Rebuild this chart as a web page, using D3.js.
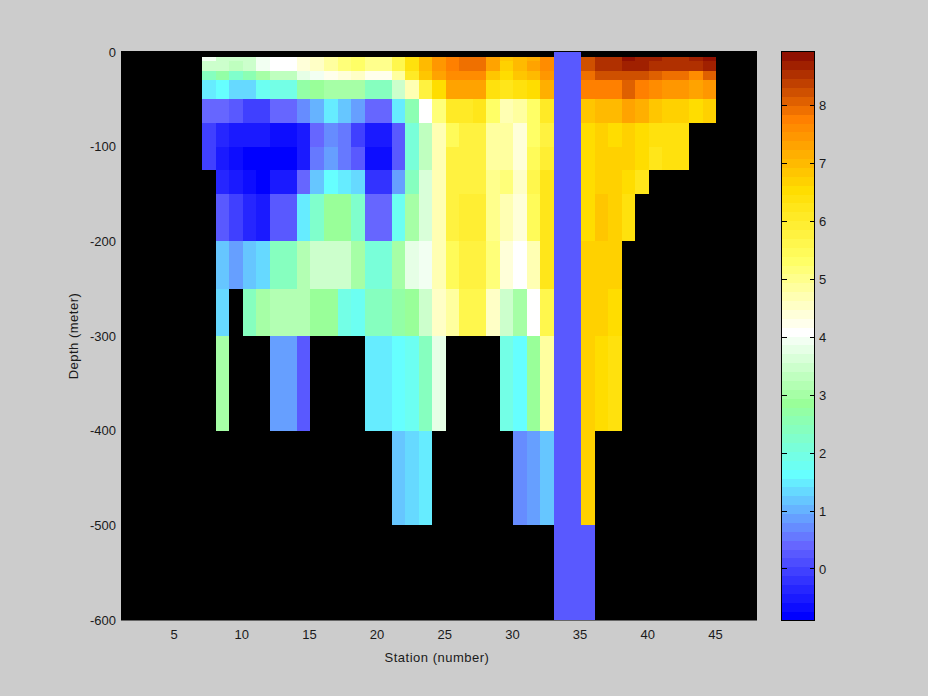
<!DOCTYPE html>
<html><head><meta charset="utf-8">
<script src="https://cdn.jsdelivr.net/npm/d3@7"></script>
<style>
html,body{margin:0;padding:0;background:#ccc}
svg{display:block}
text{font-family:"Liberation Sans",sans-serif;font-size:13px;fill:#1a1a1a}
.lab{letter-spacing:.5px}
</style></head><body>
<svg id="c" width="928" height="696"></svg>
<script>
const _ = null;
const firstStation = 7;
const depthEdges = [0,-5,-10,-20,-30,-50,-75,-100,-125,-150,-200,-250,-300,-400,-500,-600];
const xTicks = [5,10,15,20,25,30,35,40,45];
const yTicks = [0,-100,-200,-300,-400,-500,-600];
const cbTicks = [0,1,2,3,4,5,6,7,8];
const valueRange = [-0.88,8.92];
const colorStops = ["#0000ff","#6666ff","#66ffff","#99ff99","#ffffff","#ffff66","#ffdd00","#ff8000","#800000"];
const levelCount = 64;

const row0   = [_,_,_,_,_,_,_,_,_,_,_,_,_,_,_,_,_,_,_,_,_,_,_,_,_,_,.2,.2,_,_,_,_,_,_,_,_,_,_];
const row5   = [3.87,3.41,3.41,3.41,3.87,4.02,4.02,4.25,4.48,4.79,5.09,5.25,4.94,4.94,5.55,6.39,6.93,7.39,7.70,7.85,7.85,7.16,6.78,6.93,7.08,7.54,.2,.2,8.15,8.46,8.46,8.77,8.61,8.61,8.46,8.46,8.61,8.84];
const row10  = [3.41,3.41,3.25,3.41,3.87,4.02,4.02,4.25,4.48,4.79,5.09,5.25,4.94,4.94,5.55,6.32,6.93,7.39,7.70,7.85,7.85,7.16,6.62,6.93,7.16,7.54,.2,.2,8.15,8.46,8.46,8.61,8.61,8.46,8.46,8.46,8.46,8.61];
const row20  = [2.34,2.57,2.18,2.49,2.95,3.25,3.25,3.71,3.87,4.17,4.33,4.48,4.17,4.17,4.79,6.01,6.70,7.16,7.54,7.54,7.54,6.78,6.47,6.78,6.93,7.39,.2,.2,7.85,8.15,8.15,8.23,8.15,8.00,7.85,7.85,7.54,8.00];
const row30  = [1.42,1.57,1.34,1.34,1.72,1.95,1.95,2.64,2.80,2.95,2.95,2.95,2.41,2.41,3.41,4.63,5.70,6.47,7.16,7.16,7.16,6.32,6.16,6.32,6.47,7.08,.2,.2,7.70,7.70,7.70,7.93,7.77,7.54,7.39,7.39,7.16,7.39];
const row50  = [.35,.35,.19,-.11,-.19,.35,.35,.65,1.03,1.42,1.11,.80,.35,.35,1.42,2.49,4.02,5.09,6.01,6.01,6.09,5.25,4.63,4.86,5.32,6.01,.2,.2,6.78,6.93,6.93,7.16,7.08,6.78,6.62,6.62,6.47,6.62];
const row75  = [-.11,-.42,-.50,-.50,-.57,-.80,-.80,-.50,.35,.65,.50,-.11,-.57,-.57,.19,2.03,3.25,4.63,5.40,5.70,5.70,4.79,4.79,4.33,5.25,5.70,.2,.2,6.47,6.62,6.47,6.62,6.47,6.32,6.32,6.32,_,_];
const row100 = [-.04,-.57,-.73,-.83,-.85,-.85,-.85,-.50,.50,.80,.50,.19,-.73,-.73,.19,2.03,3.25,4.63,5.70,5.70,5.70,4.79,4.79,4.33,5.47,5.86,.2,.2,6.47,6.62,6.62,6.62,6.47,6.24,6.32,6.32,_,_];
const row125 = [_,-.42,-.50,-.80,-.85,-.65,-.65,.27,1.11,1.57,1.42,1.19,-.27,-.27,.80,2.34,3.56,4.63,5.70,5.70,5.70,4.94,5.09,4.48,5.55,6.16,.2,.2,6.47,6.62,6.62,6.47,6.16,_,_,_,_,_];
const row150 = [_,.19,-.04,-.42,-.65,.19,.19,1.42,2.18,2.80,2.80,2.18,.35,.35,1.72,2.95,3.56,4.63,5.70,5.86,5.86,4.94,4.63,4.33,5.40,6.16,.2,.2,6.47,6.78,6.62,6.32,_,_,_,_,_,_];
const row200 = [_,1.11,.80,1.11,1.26,2.34,2.34,3.10,3.41,3.41,3.41,2.95,2.03,2.03,2.95,3.64,3.87,4.63,5.40,5.70,5.70,5.09,4.33,4.02,4.63,6.16,.2,.2,6.62,6.62,6.62,_,_,_,_,_,_,_];
const row250 = [_,1.26,_,2.34,2.95,3.03,3.03,3.03,2.87,2.87,1.95,1.72,2.26,2.26,2.57,2.87,3.41,4.48,4.79,5.55,5.55,4.48,3.41,2.95,4.02,5.55,.2,.2,6.62,6.62,6.47,_,_,_,_,_,_,_];
const row300 = [_,2.95,_,_,_,.88,.88,.19,_,_,_,_,1.42,1.42,1.57,1.72,2.34,3.71,_,_,_,_,1.95,1.57,2.80,4.79,.2,.2,6.62,6.47,6.32,_,_,_,_,_,_,_];
const row400 = [_,_,_,_,_,_,_,_,_,_,_,_,_,_,1.11,1.19,1.42,_,_,_,_,_,_,.65,.80,1.11,.2,.2,6.62,_,_,_,_,_,_,_,_,_];
const row500 = [_,_,_,_,_,_,_,_,_,_,_,_,_,_,_,_,_,_,_,_,_,_,_,_,_,_,.2,.2,.2,_,_,_,_,_,_,_,_,_];
const rows = [row0,row5,row10,row20,row30,row50,row75,row100,row125,row150,row200,row250,row300,row400,row500];

const svg = d3.select("#c");
const x = d3.scaleLinear().domain([1,48]).range([121,757]);
const y = d3.scaleLinear().domain([0,-600]).range([52,620]);
const cbY = d3.scaleLinear().domain(valueRange).range([620,52]);

const interp = d3.piecewise(d3.interpolateRgb, colorStops);
const levels = d3.range(levelCount).map(i => interp(i/levelCount));
const halfBand = (valueRange[1]-valueRange[0])/levelCount/2;
const color = d3.scaleQuantize().domain([valueRange[0]-halfBand,valueRange[1]-halfBand]).range(levels);

// plot
svg.append("rect").attr("x",x(1)).attr("y",51).attr("width",x(48)-x(1)).attr("height",569.5).attr("fill","#000");
const plot = svg.append("g").attr("shape-rendering","crispEdges");
rows.forEach((row,r)=>{
  plot.selectAll(null).data(row.map((v,k)=>({v,k})).filter(d=>d.v!==null)).join("rect")
    .attr("x",d=>x(firstStation+d.k))
    .attr("width",d=>x(firstStation+d.k+1)-x(firstStation+d.k))
    .attr("y",y(depthEdges[r]))
    .attr("height",y(depthEdges[r+1])-y(depthEdges[r]))
    .attr("fill",d=>color(d.v));
});

// axes
const clean = g => { g.select(".domain").remove(); g.attr("font-family",null).attr("font-size",null); };
const asText = d => String(d);
const xAxis = svg.append("g").attr("transform","translate(-1.5,620)")
  .call(d3.axisBottom(x).tickValues(xTicks).tickSize(0).tickPadding(10).tickFormat(asText)).call(clean);
const yAxis = svg.append("g").attr("transform","translate(116,0)")
  .call(d3.axisLeft(y).tickValues(yTicks).tickSize(0).tickPadding(0).tickFormat(asText)).call(clean);
svg.append("text").attr("class","lab").attr("x",437).attr("y",662).attr("text-anchor","middle").text("Station (number)");
svg.append("text").attr("class","lab").attr("transform","translate(78,336) rotate(-90)").attr("text-anchor","middle").text("Depth (meter)");

// colorbar
const cb = svg.append("g").attr("shape-rendering","crispEdges");
const bandH = (cbY.range()[0]-cbY.range()[1])/levelCount;
cb.selectAll("rect").data(levels).join("rect")
  .attr("x",781.5).attr("width",33)
  .attr("y",(d,i)=>620-(i+1)*bandH).attr("height",bandH+0.5)
  .attr("fill",d=>d);
cb.append("rect").attr("x",781.5).attr("y",51.5).attr("width",33).attr("height",569)
  .attr("fill","none").attr("stroke","#000");
const cbAxis = svg.append("g").attr("transform","translate(815,0)")
  .call(d3.axisRight(cbY).tickValues(cbTicks).tickSize(0).tickPadding(4).tickFormat(asText)).call(clean);
const tickG = svg.append("g").attr("stroke","#000").attr("shape-rendering","crispEdges");
tickG.selectAll("path").data(cbTicks).join("path")
  .attr("d",d=>`M781.5,${cbY(d)}h5M814.5,${cbY(d)}h-5`);
</script>
</body></html>
